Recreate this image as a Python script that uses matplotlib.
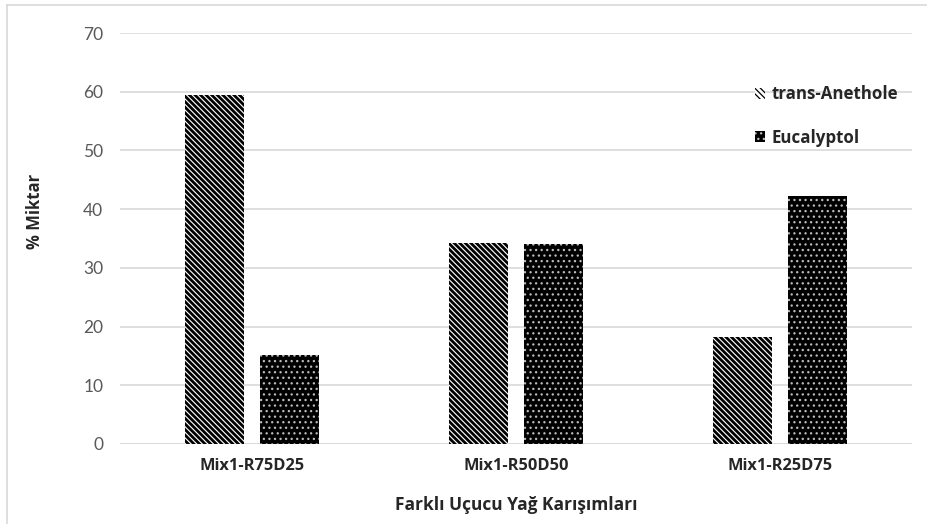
import matplotlib
matplotlib.use("Agg")
import matplotlib.pyplot as plt
import numpy as np
from matplotlib.lines import Line2D

categories = ["Mix1-R75D25", "Mix1-R50D50", "Mix1-R25D75"]
series_names = ["trans-Anethole", "Eucalyptol"]
trans_anethole = [59.4, 34.3, 18.2]
eucalyptol = [15.2, 34.1, 42.2]
y_ticks = [0, 10, 20, 30, 40, 50, 60, 70]

plt.rcParams['font.family'] = ['Open Sans', 'DejaVu Sans']
BOLD = ['Open Sans', 'DejaVu Sans']

fig = plt.figure(figsize=(9.28, 5.24), dpi=100)
ax = fig.add_axes([120/928, 1-444/524, 792/928, (444-33)/524])

x = np.arange(len(categories))
w = 0.227
off = 0.142
plt.rcParams['hatch.linewidth'] = 2.0
b1 = ax.bar(x - off, trans_anethole, w, facecolor='white', edgecolor='black',
            hatch='\\\\\\\\\\\\', linewidth=0, label=series_names[0], zorder=3)
plt.rcParams['hatch.linewidth'] = 0.9
b2 = ax.bar(x + off, eucalyptol, w, facecolor='black', edgecolor='#bbbbbb',
            hatch='...', linewidth=0, label=series_names[1], zorder=3)

ax.set_xlim(-0.5, 2.5)
ax.set_ylim(0, 70)
ax.set_yticks(y_ticks)
ax.set_yticklabels([str(t) for t in y_ticks], fontsize=12.5, color='#595959',
                   family=['Lato', 'DejaVu Sans'])
ax.set_xticks(x)
ax.set_xticklabels(categories, fontsize=11.8, fontweight='bold', color='#262626', family=BOLD)
ax.tick_params(axis='y', length=0, pad=12)
ax.tick_params(axis='x', length=0, pad=10)
ax.yaxis.grid(True, color='#d9d9d9', linewidth=1.2, zorder=0)
ax.set_axisbelow(True)
for s in ax.spines.values():
    s.set_visible(False)
ax.axhline(0, color='#d9d9d9', linewidth=1.2, zorder=2)

ax.set_ylabel("% Miktar", fontsize=12, fontweight='bold', color='#262626', family=BOLD)
ax.yaxis.set_label_coords(-76/792, (444-211)/411)
ax.set_xlabel("Farklı Uçucu Yağ Karışımları", fontsize=12.5, fontweight='bold', color='#262626',
              family=BOLD, labelpad=16)

leg = ax.legend(loc='upper left', bbox_to_anchor=(620/792, 1 - 37/411), frameon=False,
                prop={'family': BOLD, 'weight': 'bold', 'size': 12.2},
                handlelength=0.6, handleheight=0.6, handletextpad=0.35,
                labelspacing=1.5)
for t in leg.get_texts():
    t.set_color('#262626')

# outer border
fig.add_artist(Line2D([7/928, 7/928], [0, 1-5/524], color='#d9d9d9', linewidth=1.2))
fig.add_artist(Line2D([7/928, 1], [1-5/524, 1-5/524], color='#d9d9d9', linewidth=1.2))

fig.savefig("out.png", dpi=100)
